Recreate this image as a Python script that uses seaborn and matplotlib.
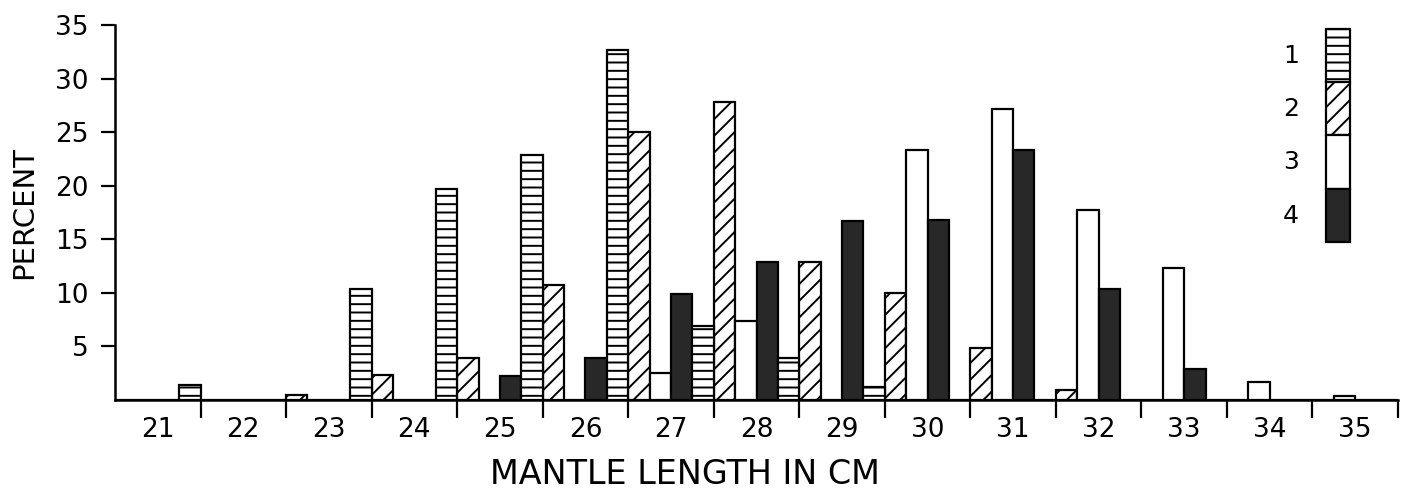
import numpy as np
import pandas as pd
import matplotlib
matplotlib.use("Agg")
import matplotlib.pyplot as plt
import matplotlib.patches as mpatches
import seaborn as sns

# ---- data ----
lengths = ["21", "22", "23", "24", "25", "26", "27", "28", "29", "30", "31", "32", "33", "34", "35"]
group1 = [1.4, 0, 10.4, 19.7, 22.9, 32.7, 6.9, 3.95, 1.25, 0, 0, 0, 0, 0, 0]
group2 = [0, 0, 0.5, 2.3, 3.9, 10.7, 25.0, 27.8, 12.9, 10.0, 4.9, 0.9, 0, 0, 0]
group3 = [0, 0, 0, 0, 0, 0, 2.5, 7.4, 0, 23.3, 27.2, 17.7, 12.3, 1.7, 0.4]
group4 = [0, 0, 0, 0, 2.2, 3.95, 9.9, 12.9, 16.7, 16.8, 23.3, 10.4, 2.9, 0, 0]
group_names = ["1", "2", "3", "4"]
y_ticks = [5, 10, 15, 20, 25, 30, 35]

series = {"1": group1, "2": group2, "3": group3, "4": group4}
rows = []
for g in group_names:
    for L, v in zip(lengths, series[g]):
        rows.append({"length": L, "percent": v, "group": g})
df = pd.DataFrame(rows)

sns.set_style("ticks")
plt.rcParams["font.family"] = ["DejaVu Sans"]
plt.rcParams["hatch.linewidth"] = 1.4
plt.rcParams["hatch.color"] = "black"
plt.rcParams["text.color"] = "black"
plt.rcParams["axes.labelcolor"] = "black"
plt.rcParams["xtick.color"] = "black"
plt.rcParams["ytick.color"] = "black"

fills = {"1": "white", "2": "white", "3": "white", "4": "#282828"}
hatches = {"1": "--", "2": "//", "3": "", "4": ""}
slot_order = ["2", "3", "4", "1"]

fig = plt.figure(figsize=(14.08, 4.9), dpi=100)
ax = fig.add_axes([115 / 1408, 1 - 400 / 490, 1283 / 1408, 375 / 490])

sns.barplot(data=df, x="length", y="percent", hue="group", order=lengths,
            hue_order=slot_order, palette=fills, width=1.0, dodge=True,
            edgecolor="black", linewidth=1.6, errorbar=None, legend=False, ax=ax)

for cont, g in zip(ax.containers, slot_order):
    for bar in cont:
        bar.set_hatch(hatches[g])
        bar.set_edgecolor("black")

ax.set_xlim(-0.5, len(lengths) - 0.5)
ax.set_ylim(0, 35)
ax.set_yticks(y_ticks)
ax.set_yticklabels([str(t) for t in y_ticks])
ax.set_xticks(range(len(lengths)))
ax.set_xticklabels(lengths)
ax.set_xticks(np.arange(0.5, len(lengths), 1), minor=True)

ax.tick_params(axis="x", which="major", length=0, pad=12, labelsize=19)
ax.tick_params(axis="x", which="minor", length=13, width=1.6, direction="out")
ax.tick_params(axis="y", which="major", length=10, width=1.6, pad=9, labelsize=19)

for s in ["top", "right"]:
    ax.spines[s].set_visible(False)
for s in ["left", "bottom"]:
    ax.spines[s].set_linewidth(1.8)
    ax.spines[s].set_color("black")

ax.set_ylabel("PERCENT", fontsize=21, labelpad=12)
ax.set_xlabel("MANTLE LENGTH IN CM", fontsize=24)
ax.xaxis.set_label_coords(0.444, -0.155)

handles = [mpatches.Patch(facecolor=fills[g], edgecolor="black", hatch=hatches[g], linewidth=1.6)
           for g in group_names]
leg = ax.legend(handles, group_names, loc="upper right", bbox_to_anchor=(0.9626, 0.99),
                markerfirst=False, frameon=False, fontsize=18, handlelength=0.95,
                handleheight=2.9, labelspacing=0.0, handletextpad=1.1,
                borderpad=0, borderaxespad=0)

fig.savefig("out.png", dpi=100)
